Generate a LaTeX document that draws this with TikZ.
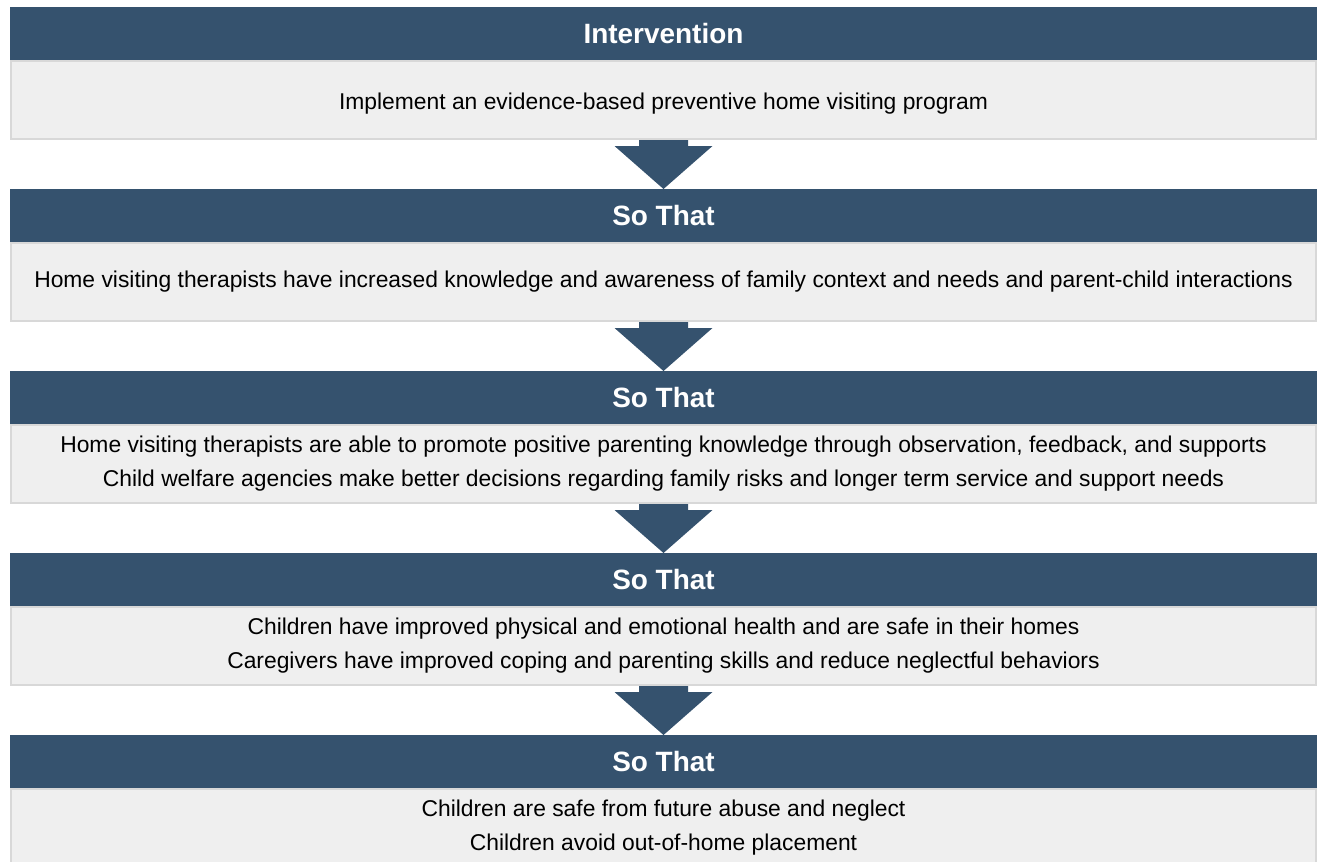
\documentclass[tikz,border=0pt]{standalone}
\usepackage{fontspec}
\setmainfont{Liberation Sans}
\usetikzlibrary{positioning,calc}
\definecolor{barblue}{RGB}{53,82,110}
\definecolor{bodygray}{RGB}{239,239,239}
\definecolor{edgegray}{RGB}{216,216,216}
\newcommand{\widthrow}{26.14cm}
\newcommand{\heightbar}{1.08cm}
\newcommand{\heightbody}{1.56cm}
\newcommand{\gapstep}{1cm}
\tikzset{
    common/.style={rectangle, inner sep=0pt, outer sep=0pt, minimum width=\widthrow},
    titlebar/.style={common, fill=barblue, text=white, minimum height=\heightbar,
        font=\fontsize{15.9}{19}\selectfont\bfseries},
    textbox/.style={common, fill=bodygray, draw=edgegray, line width=1pt,
        minimum width=26.1cm, minimum height=\heightbody, align=center,
        font=\fontsize{13}{19.3}\selectfont},
    flow/.style={fill=barblue}
}

\begin{document}
\begin{tikzpicture}
    \useasboundingbox (0,0) rectangle (26.34,-17.22);

    \node[titlebar, anchor=north] (h1) at (13.27,-0.14) {Intervention};
    \node[textbox, below=0pt of h1] (b1)
        {\rule{0pt}{14pt}Implement an evidence-based preventive home visiting program};

    \node[titlebar, below=\gapstep of b1] (h2) {So That};
    \node[textbox, below=0pt of h2] (b2)
        {Home visiting therapists have increased knowledge and awareness of family context and needs and parent-child interactions};

    \node[titlebar, below=\gapstep of b2] (h3) {So That};
    \node[textbox, below=0pt of h3] (b3)
        {Home visiting therapists are able to promote positive parenting knowledge through observation, feedback, and supports\\
         Child welfare agencies make better decisions regarding family risks and longer term service and support needs};

    \node[titlebar, below=\gapstep of b3] (h4) {So That};
    \node[textbox, below=0pt of h4] (b4)
        {Children have improved physical and emotional health and are safe in their homes\\
         Caregivers have improved coping and parenting skills and reduce neglectful behaviors};

    \node[titlebar, below=\gapstep of b4] (h5) {So That};
    \node[textbox, below=0pt of h5] (b5)
        {Children are safe from future abuse and neglect\\
         Children avoid out-of-home placement};

    % block arrows between the rows
    \fill[flow] ($(b1.south)+(-0.49,-0.02)$) -- ++(0.98,0) -- ++(0,-0.12) -- ++(0.49,0)
        -- (h2.north) -- ++(-0.98,0.86) -- ++(0.49,0) -- cycle;
    \fill[flow] ($(b2.south)+(-0.49,-0.02)$) -- ++(0.98,0) -- ++(0,-0.12) -- ++(0.49,0)
        -- (h3.north) -- ++(-0.98,0.86) -- ++(0.49,0) -- cycle;
    \fill[flow] ($(b3.south)+(-0.49,-0.02)$) -- ++(0.98,0) -- ++(0,-0.12) -- ++(0.49,0)
        -- (h4.north) -- ++(-0.98,0.86) -- ++(0.49,0) -- cycle;
    \fill[flow] ($(b4.south)+(-0.49,-0.02)$) -- ++(0.98,0) -- ++(0,-0.12) -- ++(0.49,0)
        -- (h5.north) -- ++(-0.98,0.86) -- ++(0.49,0) -- cycle;
\end{tikzpicture}
\end{document}
